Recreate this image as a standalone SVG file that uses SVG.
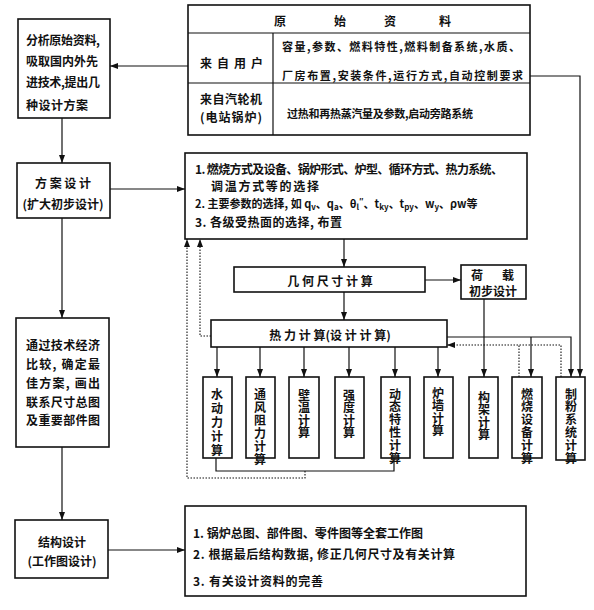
<svg xmlns="http://www.w3.org/2000/svg" width="594" height="610" viewBox="0 0 594 610">
<defs>
<marker id="ah" markerWidth="8" markerHeight="6" refX="8" refY="3" orient="auto" markerUnits="userSpaceOnUse"><path d="M0,0 L8,3 L0,6 z" fill="#111"/></marker>
<style>
.b{fill:#fff;stroke:#111;stroke-width:1.6}
.t{font-family:"Noto Sans CJK SC","Noto Sans",sans-serif;font-size:12px;font-weight:bold;fill:#111;dominant-baseline:central}
.s{font-size:11px}
.v{font-family:"Noto Sans CJK SC","Noto Sans",sans-serif;font-size:12px;font-weight:bold;fill:#111;writing-mode:vertical-rl;text-orientation:upright}
.c{fill:none;stroke:#111;stroke-width:1.2}
.a{marker-end:url(#ah)}
.d{fill:none;stroke:#111;stroke-width:1.1;stroke-dasharray:1.5 1.5}
.m{text-anchor:middle}
</style>
</defs>
<rect width="594" height="610" fill="#fff"/>
<g id="connectors">
<path class="c a" d="M188,66 L110,66"/>
<path class="c a" d="M62,118 L62,163"/>
<path class="c a" d="M110,189 L185,189"/>
<path class="c a" d="M62,218 L62,318"/>
<path class="c a" d="M62,447 L62,520"/>
<path class="c a" d="M108,550 L185,550"/>
<path class="c a" d="M344,239 L344,267"/>
<path class="c a" d="M425,280 L461,280"/>
<path class="c a" d="M344,292 L344,320"/>
<path class="c a" d="M484,299 L484,377"/>
<path class="c a" d="M217,347 L217,377"/>
<path class="c a" d="M260,347 L260,377"/>
<path class="c a" d="M304,347 L304,377"/>
<path class="c a" d="M349,347 L349,377"/>
<path class="c a" d="M395,347 L395,377"/>
<path class="c a" d="M438,347 L438,377"/>
<path class="c a" d="M447,337 L571,337 L571,377"/>
<path class="c a" d="M531,337 L531,377"/>
<path class="c a" d="M530,76 L580,76 L580,377"/>
<path class="c" d="M216,458 L216,471 L394,471 L394,458"/>
<path class="d a" d="M305,471 L305,478 L187,478 L187,239"/>
<path class="d a" d="M211,336 L200,336 L200,239"/>
<path class="d" d="M519,377 L519,345"/>
<path class="d a" d="M561,377 L561,345 L447,345"/>
</g>
<g id="n-analysis">
<rect class="b" x="18" y="19" width="92" height="99"/>
<text class="t" x="26" y="39" textLength="74">分析原始资料,</text>
<text class="t" x="26" y="60" textLength="72">吸取国内外先</text>
<text class="t" x="26" y="81" textLength="74">进技术,提出几</text>
<text class="t" x="26" y="104" textLength="62">种设计方案</text>
</g>
<g id="n-data">
<rect class="b" x="188" y="5" width="342" height="130"/>
<path class="c" d="M188,33 L530,33 M188,83 L530,83 M273,33 L273,135"/>
<text class="t m" x="280" y="20">原</text>
<text class="t m" x="340" y="20">始</text>
<text class="t m" x="390" y="20">资</text>
<text class="t m" x="445" y="20">料</text>
<text class="t" x="200" y="62" textLength="63">来 自 用 户</text>
<text class="t s" x="282" y="46" textLength="238">容量,参数、燃料特性,燃料制备系统,水质、</text>
<text class="t s" x="282" y="75" textLength="241">厂房布置,安装条件,运行方式,自动控制要求</text>
<text class="t" x="200" y="98" textLength="62">来自汽轮机</text>
<text class="t" x="200" y="116" textLength="62">(电站锅炉)</text>
<text class="t s" x="287" y="113" textLength="186">过热和再热蒸汽量及参数,启动旁路系统</text>
</g>
<g id="n-scheme">
<rect class="b" x="17" y="163" width="93" height="55"/>
<text class="t m" x="63" y="182">方 案 设 计</text>
<text class="t m" x="63" y="203">(扩大初步设计)</text>
</g>
<g id="n-choices">
<rect class="b" x="185" y="153" width="342" height="86"/>
<text class="t" x="195" y="168" textLength="308">1. 燃烧方式及设备、锅炉形式、炉型、循环方式、热力系统、</text>
<text class="t" x="211" y="185" textLength="108">调温方式等的选择</text>
<text class="t s" x="195" y="203">2. 主要参数的选择, 如 q<tspan font-size="8" dy="3">v</tspan><tspan dy="-3">、q</tspan><tspan font-size="8" dy="3">a</tspan><tspan dy="-3">、θ</tspan><tspan font-size="8" dy="3">l</tspan><tspan font-size="8" dy="-6">″</tspan><tspan dy="3">、t</tspan><tspan font-size="8" dy="3">ky</tspan><tspan dy="-3">、t</tspan><tspan font-size="8" dy="3">py</tspan><tspan dy="-3">、w</tspan><tspan font-size="8" dy="3">y</tspan><tspan dy="-3">、ρw等</tspan></text>
<text class="t" x="195" y="221" textLength="147">3. 各级受热面的选择, 布置</text>
</g>
<g id="n-geometry">
<rect class="b" x="234" y="267" width="191" height="25"/>
<text class="t m" x="330" y="280">几 何 尺 寸 计 算</text>
</g>
<g id="n-load">
<rect class="b" x="461" y="265" width="65" height="34"/>
<text class="t"><tspan x="471" y="274">荷</tspan><tspan x="502" y="274">载</tspan><tspan x="469" y="290">初步设计</tspan></text>
</g>
<g id="n-thermal">
<rect class="b" x="211" y="320" width="236" height="27"/>
<text class="t m" x="330" y="334">热 力 计 算(设 计 计 算)</text>
</g>
<g id="n-hydro">
<rect class="b" x="203" y="377" width="29" height="81"/>
<text class="v" x="217" y="388" letter-spacing="2">水动力计算</text>
</g>
<g id="n-draft">
<rect class="b" x="246" y="377" width="29" height="81"/>
<text class="v" x="260" y="388" letter-spacing="1">通风阻力计算</text>
</g>
<g id="n-walltemp">
<rect class="b" x="289" y="377" width="30" height="81"/>
<text class="v" x="304" y="389" letter-spacing="0.5">壁温计算</text>
</g>
<g id="n-strength">
<rect class="b" x="335" y="377" width="29" height="81"/>
<text class="v" x="349" y="389" letter-spacing="0.5">强度计算</text>
</g>
<g id="n-dynamic">
<rect class="b" x="381" y="377" width="29" height="81"/>
<text class="v" x="395" y="388" letter-spacing="0.8">动态特性计算</text>
</g>
<g id="n-furnacewall">
<rect class="b" x="424" y="377" width="29" height="81"/>
<text class="v" x="438" y="387" letter-spacing="0.5">炉墙计算</text>
</g>
<g id="n-frame">
<rect class="b" x="469" y="377" width="29" height="81"/>
<text class="v" x="484" y="391" letter-spacing="0.5">构架计算</text>
</g>
<g id="n-burner">
<rect class="b" x="512" y="377" width="30" height="81"/>
<text class="v" x="527" y="388" letter-spacing="0.8">燃烧设备计算</text>
</g>
<g id="n-pulverizing">
<rect class="b" x="556" y="377" width="29" height="83"/>
<text class="v" x="571" y="388" letter-spacing="0.8">制粉系统计算</text>
</g>
<g id="n-optimum">
<rect class="b" x="16" y="318" width="93" height="129"/>
<text class="t" x="26" y="344" textLength="74">通过技术经济</text>
<text class="t" x="26" y="363" textLength="74">比较, 确定最</text>
<text class="t" x="26" y="382" textLength="74">佳方案, 画出</text>
<text class="t" x="26" y="401" textLength="74">联系尺寸总图</text>
<text class="t" x="26" y="419" textLength="74">及重要部件图</text>
</g>
<g id="n-structure">
<rect class="b" x="15" y="520" width="93" height="58"/>
<text class="t m" x="62" y="541">结构设计</text>
<text class="t m" x="62" y="560">(工作图设计)</text>
</g>
<g id="n-drawings">
<rect class="b" x="185" y="506" width="341" height="90"/>
<text class="t" x="193" y="532" textLength="230">1. 锅炉总图、部件图、零件图等全套工作图</text>
<text class="t" x="193" y="553" textLength="262">2. 根据最后结构数据, 修正几何尺寸及有关计算</text>
<text class="t" x="193" y="580" textLength="130">3. 有关设计资料的完善</text>
</g>
</svg>
